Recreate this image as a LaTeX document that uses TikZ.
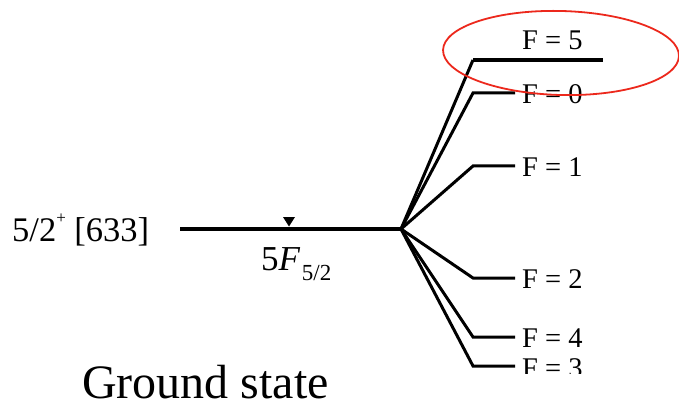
\documentclass[tikz,border=0pt]{standalone}
\usepackage{fontspec}
\setmainfont{Liberation Serif}
\usetikzlibrary{shapes.geometric}
\begin{document}
\begin{tikzpicture}[x=1pt,y=-1pt,
  lvl/.style={line width=4.5pt,line cap=butt},
  br/.style={line width=3pt,line join=miter},
  toplvl/.style={line width=4pt},
  flab/.style={anchor=base west,inner sep=0pt,font=\fontsize{28.5}{32}\selectfont},
  hl/.style={draw={rgb,255:red,236;green,40;blue,28},line width=1.8pt,ellipse,inner sep=0pt,minimum width=236pt,minimum height=84pt}
]
\useasboundingbox (0,0) rectangle (679,406);
% main level
\coordinate (s) at (180,229);
\coordinate (b) at (401,229);
\draw[lvl] (s) -- (b);
\fill (283,217) -- (295,217) -- (289,226.5) -- cycle;
% branch corners and ends
\coordinate (c5) at (473,60);  \coordinate (e5) at (603,60);
\coordinate (c0) at (473,93);  \coordinate (e0) at (515,93);
\coordinate (c1) at (473,166); \coordinate (e1) at (515,166);
\coordinate (c2) at (473,278); \coordinate (e2) at (515,278);
\coordinate (c4) at (473,337); \coordinate (e4) at (515,337);
\coordinate (c3) at (473,366); \coordinate (e3) at (515,366);
\draw[br] (b) -- (c5);
\draw[toplvl] (c5) -- (e5);
\draw[br] (b) -- (c0) -- (e0);
\draw[br] (b) -- (c1) -- (e1);
\draw[br] (b) -- (c2) -- (e2);
\draw[br] (b) -- (c4) -- (e4);
\draw[br] (b) -- (c3) -- (e3);
% labels
\node[flab] (l5) at (522,50) {F = 5};
\node[flab] (l0) at (522,104) {F = 0};
\node[flab] (l1) at (522,176) {F = 1};
\node[flab] (l2) at (522,288) {F = 2};
\node[flab] (l4) at (522,347) {F = 4};
\begin{scope}
\clip (500,300) rectangle (679,373);
\node[flab] (l3) at (522,377) {F = 3};
\end{scope}
\node[anchor=base west,inner sep=0pt,font=\fontsize{34.5}{40}\selectfont] (orb) at (12,241) {5/2\raisebox{0.5em}{\fontsize{17}{20}\selectfont +} [633]};
\node[anchor=base west,inner sep=0pt,font=\fontsize{35}{40}\selectfont] (cfg) at (261,270) {5\textit{F}\hspace{1.5pt}\raisebox{-10pt}{\fontsize{23}{26}\selectfont 5/2}};
\node[anchor=base west,inner sep=0pt,font=\fontsize{48}{56}\selectfont] (gs) at (82,398) {Ground state};
% highlight
\node[hl,rotate=-1.5] (hlt) at (561,53) {};
\end{tikzpicture}
\end{document}
